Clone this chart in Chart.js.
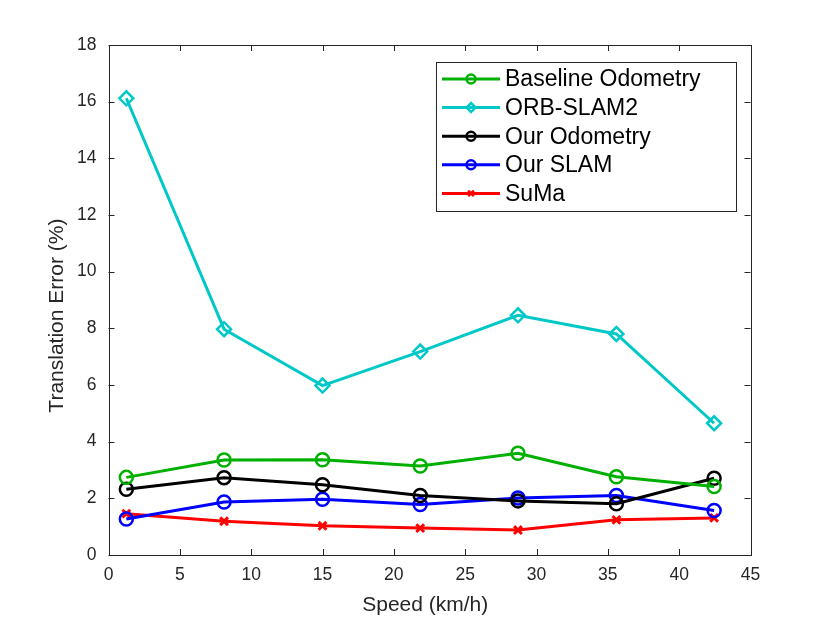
<!DOCTYPE html>
<html>
<head>
<meta charset="utf-8">
<script src="https://cdn.jsdelivr.net/npm/chart.js@4.4.0/dist/chart.umd.min.js"></script>
<style>
  html, body { margin: 0; padding: 0; background: #fff; }
  #wrap { width: 830px; height: 623px; }
</style>
</head>
<body>
<div id="wrap"><canvas id="errChart" width="830" height="623"></canvas></div>
<script>
// Data
const speeds = [1.25, 8.1, 15.0, 21.85, 28.7, 35.6, 42.45];
const baselineOdometry = [2.74, 3.35, 3.36, 3.14, 3.59, 2.76, 2.42];
const orbSlam2 = [16.12, 7.97, 5.98, 7.18, 8.46, 7.8, 4.65];
const ourOdometry = [2.32, 2.73, 2.48, 2.1, 1.91, 1.81, 2.71];
const ourSlam = [1.27, 1.87, 1.97, 1.78, 2.01, 2.1, 1.57];
const suma = [1.46, 1.19, 1.03, 0.95, 0.88, 1.24, 1.31];
const xTicks = [0, 5, 10, 15, 20, 25, 30, 35, 40, 45];
const yTicks = [0, 2, 4, 6, 8, 10, 12, 14, 16, 18];
const xTitle = "Speed (km/h)";
const yTitle = "Translation Error (%)";

const axisColor = "#262626";
const fontFamily = "'Liberation Sans', Arial, sans-serif";

function toPoints(values) {
    return values.map((v, i) => ({ x: speeds[i], y: v }));
}

function series(label, values, color, style, radius, bw) {
    return {
        label: label,
        data: toPoints(values),
        borderColor: color,
        backgroundColor: "rgba(0,0,0,0)",
        borderWidth: 3,
        pointStyle: style,
        pointRadius: radius,
        pointHoverRadius: radius,
        pointBorderWidth: bw,
        pointBackgroundColor: "rgba(0,0,0,0)",
        tension: 0
    };
}

// Box around the plot with inward ticks on all four sides, plus axis titles
const boxPlugin = {
    id: "box",
    afterDatasetsDraw(chart) {
        const ctx = chart.ctx;
        const a = chart.chartArea;
        const xs = chart.scales.x, ys = chart.scales.y;
        const len = 6;
        ctx.save();
        ctx.strokeStyle = axisColor;
        ctx.lineWidth = 1;
        ctx.beginPath();
        xTicks.forEach(t => {
            const px = Math.round(xs.getPixelForValue(t)) + 0.5;
            ctx.moveTo(px, a.bottom); ctx.lineTo(px, a.bottom - len);
            ctx.moveTo(px, a.top); ctx.lineTo(px, a.top + len);
        });
        yTicks.forEach(t => {
            const py = Math.round(ys.getPixelForValue(t)) + 0.5;
            ctx.moveTo(a.left, py); ctx.lineTo(a.left + len, py);
            ctx.moveTo(a.right, py); ctx.lineTo(a.right - len, py);
        });
        ctx.stroke();
        ctx.strokeRect(Math.round(a.left) + 0.5, Math.round(a.top) + 0.5,
            Math.round(a.right - a.left), Math.round(a.bottom - a.top));

        // axis titles, slightly off-centre like the original figure
        ctx.fillStyle = axisColor;
        ctx.font = "21px " + fontFamily;
        ctx.textAlign = "center";
        ctx.textBaseline = "middle";
        ctx.fillText(xTitle, xs.getPixelForValue(22.2), 605);
        ctx.translate(57, ys.getPixelForValue(8.45));
        ctx.rotate(-Math.PI / 2);
        ctx.fillText(yTitle, 0, 0);
        ctx.restore();
    }
};

// MATLAB style legend box in the upper right of the plot
const legendPlugin = {
    id: "insideLegend",
    afterDraw(chart) {
        const ctx = chart.ctx;
        const boxX = 436, boxY = 62, boxW = 300, boxH = 149;
        const rowH = 28.6, firstRow = 79;
        ctx.save();
        ctx.fillStyle = "#fff";
        ctx.fillRect(boxX, boxY, boxW, boxH);
        ctx.strokeStyle = axisColor;
        ctx.lineWidth = 1;
        ctx.strokeRect(boxX + 0.5, boxY + 0.5, boxW, boxH);
        chart.data.datasets.forEach((ds, i) => {
            const y = firstRow + i * rowH;
            ctx.strokeStyle = ds.borderColor;
            ctx.lineWidth = 3;
            ctx.beginPath();
            ctx.moveTo(442, y); ctx.lineTo(500, y);
            ctx.stroke();
            ctx.lineWidth = 2.5;
            ctx.fillStyle = "rgba(0,0,0,0)";
            Chart.helpers.drawPoint(ctx, {
                pointStyle: ds.pointStyle,
                radius: ds.pointStyle === "crossRot" ? 4 : 4.5,
                rotation: 0,
                borderWidth: 2.5
            }, 471, y);
            ctx.fillStyle = "#000";
            ctx.font = "23px " + fontFamily;
            ctx.textBaseline = "middle";
            ctx.textAlign = "left";
            ctx.fillText(ds.label, 505, y + 1);
        });
        ctx.restore();
    }
};

const ctx = document.getElementById("errChart").getContext("2d");
const errChart = new Chart(ctx, {
    type: "line",
    data: {
        datasets: [
            series("Baseline Odometry", baselineOdometry, "rgb(0,176,0)", "circle", 6.5, 2.5),
            series("ORB-SLAM2", orbSlam2, "rgb(0,200,200)", "rectRot", 7, 2.5),
            series("Our Odometry", ourOdometry, "rgb(0,0,0)", "circle", 6.5, 2.5),
            series("Our SLAM", ourSlam, "rgb(0,0,255)", "circle", 6.5, 2.5),
            series("SuMa", suma, "rgb(255,0,0)", "crossRot", 5.5, 3)
        ]
    },
    options: {
        responsive: false,
        animation: false,
        layout: { padding: { left: 0, top: 45, right: 79.5, bottom: 0 } },
        plugins: {
            legend: { display: false },
            tooltip: { enabled: false }
        },
        scales: {
            x: {
                type: "linear",
                min: 0,
                max: 45,
                afterBuildTicks: s => { s.ticks = xTicks.map(v => ({ value: v })); },
                afterFit: s => { s.height = 68; },
                grid: { display: false, drawTicks: false },
                border: { display: false },
                ticks: {
                    color: axisColor,
                    padding: 10,
                    maxRotation: 0,
                    font: { family: fontFamily, size: 17.5 }
                }
            },
            y: {
                type: "linear",
                min: 0,
                max: 18,
                afterBuildTicks: s => { s.ticks = yTicks.map(v => ({ value: v })); },
                afterFit: s => { s.width = 108.5; },
                grid: { display: false, drawTicks: false },
                border: { display: false },
                ticks: {
                    color: axisColor,
                    padding: 12,
                    font: { family: fontFamily, size: 17.5 }
                }
            }
        }
    },
    plugins: [boxPlugin, legendPlugin]
});
</script>
</body>
</html>
